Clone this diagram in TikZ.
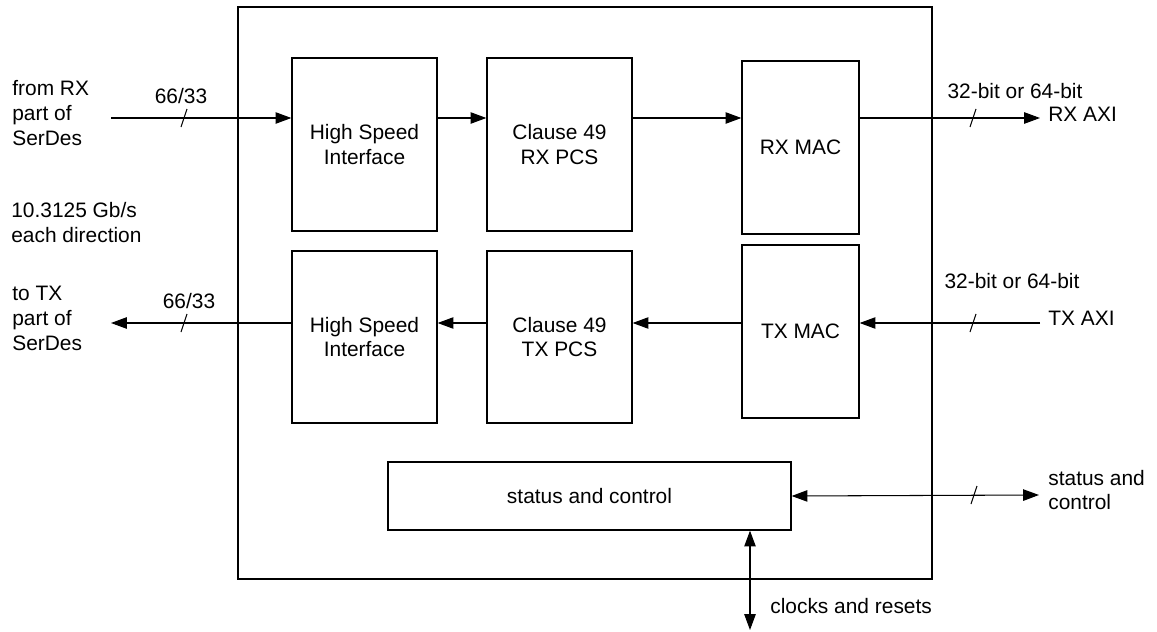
\documentclass[tikz,border=0pt]{standalone}
\usepackage{fontspec}
\setmainfont{Liberation Sans}
\usetikzlibrary{arrows.meta}

% small slash across a bus line
\newcommand{\busmark}[1]{\draw[thin line] (#1) ++(-3,9) -- ++(6,-18);}

\tikzset{
  txt/.style={font=\fontsize{11.9pt}{14.2pt}\selectfont, inner sep=0pt},
  blk/.style={txt, draw, line width=0.75pt, align=center},
  thin line/.style={line width=0.6pt},
}

\begin{document}
\begin{tikzpicture}[x=0.02cm, y=-0.02cm, >={Triangle[length=9pt, width=6.5pt]}]
\useasboundingbox (0,0) rectangle (1157,632);

% frame
\node[draw, line width=1.4pt, minimum width=13.88cm, minimum height=11.44cm] (outer) at (585,293) {};

% blocks
\node[blk, minimum width=2.9cm, minimum height=3.46cm] (hsirx) at (364.5,144.5) {High Speed\\Interface};
\node[blk, minimum width=2.9cm, minimum height=3.46cm] (pcsrx) at (559.5,144.5) {Clause 49\\RX PCS};
\node[blk, minimum width=2.34cm, minimum height=3.46cm] (macrx) at (800.5,147.5) {RX MAC};
\node[blk, minimum width=2.34cm, minimum height=3.46cm] (mactx) at (800.5,331.5) {TX MAC};
\node[blk, minimum width=2.9cm, minimum height=3.44cm] (pcstx) at (559.5,337) {Clause 49\\TX PCS};
\node[blk, minimum width=2.9cm, minimum height=3.44cm] (hsitx) at (364.5,337) {High Speed\\Interface};
\node[blk, minimum width=8.06cm, minimum height=1.36cm] (stat) at (589.5,496) {status and control};

% free ends
\coordinate (rxin) at (111,118);
\coordinate (txout) at (111,323);
\coordinate (rxaxi) at (1040,118);
\coordinate (txaxi) at (1040,323);
\coordinate (statext) at (1039,495);
\coordinate (clk) at (750,630);

% receive path
\draw[thin line, ->] (rxin) -- (rxin -| hsirx.west);
\draw[thin line, ->] (hsirx.east |- rxin) -- (pcsrx.west |- rxin);
\draw[thin line, ->] (pcsrx.east |- rxin) -- (macrx.west |- rxin);
\draw[thin line, ->] (macrx.east |- rxin) -- (rxaxi);

% transmit path
\draw[thin line, ->] (txaxi) -- (txaxi -| mactx.east);
\draw[thin line, ->] (mactx.west |- txaxi) -- (pcstx.east |- txaxi);
\draw[thin line, ->] (pcstx.west |- txaxi) -- (hsitx.east |- txaxi);
\draw[thin line, ->] (hsitx.west |- txaxi) -- (txout);

% status and clocks
\draw[thin line, <->] (stat.east) -- (statext);
\draw[thin line, <->] (stat.south -| clk) -- (clk);

\busmark{184,118}
\busmark{184,323}
\busmark{973,118}
\busmark{973,323}
\busmark{974,495}

% labels
\node[txt] (wrx) at (181,96) {66/33};
\node[txt] (wtx) at (189,301) {66/33};
\node[txt] (axirxw) at (1015,91) {32-bit or 64-bit};
\node[txt] (axitxw) at (1012,281) {32-bit or 64-bit};
\node[txt, anchor=west] (rxaxil) at (1048,114) {RX AXI};
\node[txt, anchor=west] (txaxil) at (1048,318) {TX AXI};
\node[txt, anchor=west, align=left] (fromrx) at (12,113) {from RX\\part of\\SerDes};
\node[txt, anchor=west, align=left] (rate) at (11,222.5) {10.3125 Gb/s\\each direction};
\node[txt, anchor=west, align=left] (totx) at (12,318) {to TX\\part of\\SerDes};
\node[txt, anchor=west, align=left] (statl) at (1048,490) {status and\\control};
\node[txt, anchor=west] (clkl) at (770,606) {clocks and resets};
\end{tikzpicture}
\end{document}
